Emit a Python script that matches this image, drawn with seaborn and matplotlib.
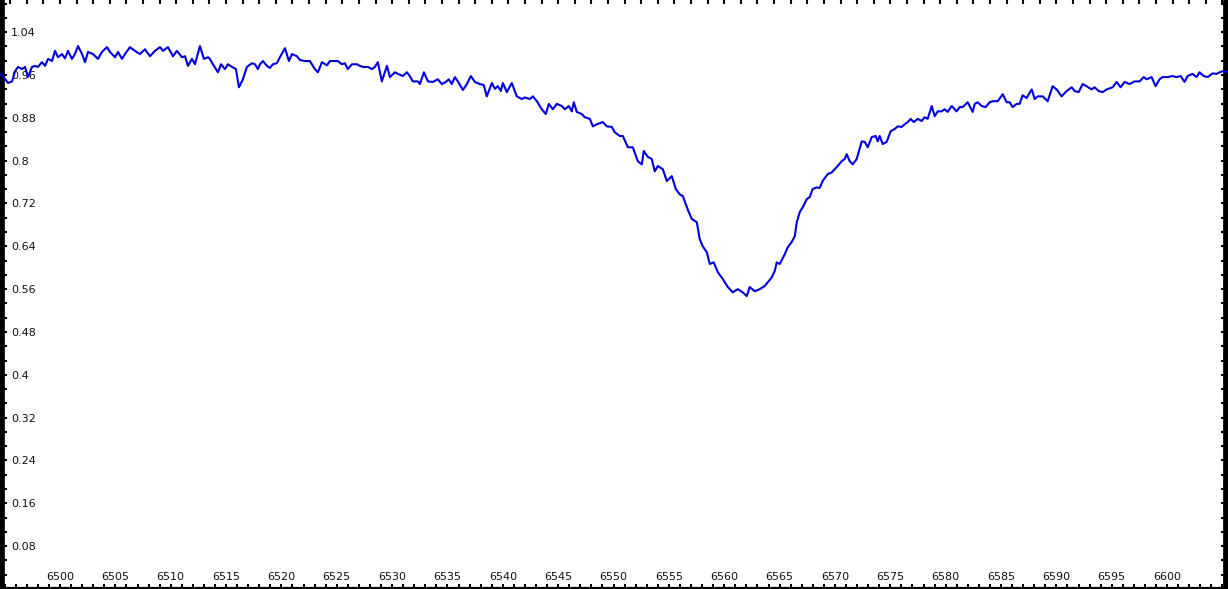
import numpy as np
import pandas as pd
import matplotlib
matplotlib.use("Agg")
import matplotlib.pyplot as plt
import seaborn as sns
from matplotlib.ticker import MultipleLocator, FixedLocator, NullFormatter

# H-alpha profile, wavelength in Angstrom
wavelength = [
    6494.58, 6494.85, 6495.30, 6495.67, 6495.94, 6496.21, 6496.57, 6496.84, 6497.11, 6497.47,
    6497.74, 6498.01, 6498.37, 6498.65, 6498.92, 6499.28, 6499.55, 6499.82, 6500.18, 6500.45,
    6500.72, 6501.08, 6501.35, 6501.63, 6501.99, 6502.26, 6502.53, 6502.98, 6503.43, 6503.79,
    6504.24, 6504.51, 6504.97, 6505.24, 6505.60, 6505.87, 6506.32, 6506.77, 6507.22, 6507.67,
    6508.13, 6508.58, 6509.03, 6509.30, 6509.75, 6510.20, 6510.56, 6511.02, 6511.29, 6511.56,
    6511.92, 6512.19, 6512.64, 6513.00, 6513.36, 6513.54, 6513.81, 6514.27, 6514.54, 6514.90,
    6515.17, 6515.53, 6515.89, 6516.16, 6516.52, 6516.88, 6517.34, 6517.61, 6517.88, 6518.06,
    6518.33, 6518.69, 6518.96, 6519.23, 6519.59, 6519.86, 6520.32, 6520.68, 6520.95, 6521.40,
    6521.67, 6522.12, 6522.57, 6523.02, 6523.30, 6523.66, 6524.11, 6524.38, 6524.83, 6525.10,
    6525.46, 6525.73, 6526.00, 6526.37, 6526.82, 6527.09, 6527.36, 6527.81, 6528.17, 6528.44,
    6528.71, 6529.07, 6529.53, 6529.80, 6530.25, 6530.52, 6530.97, 6531.33, 6531.60, 6531.87,
    6532.32, 6532.51, 6532.87, 6533.23, 6533.68, 6534.13, 6534.49, 6534.85, 6535.12, 6535.39,
    6535.67, 6535.94, 6536.39, 6536.75, 6537.11, 6537.47, 6537.92, 6538.28, 6538.55, 6539.01,
    6539.28, 6539.55, 6539.82, 6540.00, 6540.36, 6540.81, 6541.26, 6541.72, 6541.99, 6542.44,
    6542.71, 6543.07, 6543.52, 6543.88, 6544.15, 6544.51, 6544.88, 6545.33, 6545.60, 6545.96,
    6546.23, 6546.41, 6546.68, 6547.13, 6547.40, 6547.86, 6548.13, 6548.49, 6549.03, 6549.39,
    6549.84, 6550.11, 6550.56, 6550.84, 6551.29, 6551.74, 6552.19, 6552.55, 6552.73, 6553.09,
    6553.45, 6553.72, 6554.00, 6554.45, 6554.81, 6555.26, 6555.62, 6555.98, 6556.25, 6556.52,
    6556.79, 6557.07, 6557.52, 6557.79, 6558.06, 6558.42, 6558.69, 6559.05, 6559.41, 6559.86,
    6560.32, 6560.77, 6561.22, 6561.67, 6562.03, 6562.30, 6562.75, 6563.21, 6563.66, 6563.93,
    6564.29, 6564.56, 6564.74, 6565.01, 6565.46, 6565.73, 6566.09, 6566.37, 6566.55, 6566.82,
    6567.09, 6567.45, 6567.72, 6567.99, 6568.35, 6568.62, 6568.89, 6569.35, 6569.71, 6570.16,
    6570.61, 6570.88, 6571.06, 6571.33, 6571.60, 6571.96, 6572.42, 6572.69, 6572.96, 6573.32,
    6573.68, 6573.86, 6574.04, 6574.31, 6574.67, 6575.03, 6575.39, 6575.67, 6576.03, 6576.30,
    6576.57, 6576.84, 6577.11, 6577.47, 6577.83, 6578.10, 6578.37, 6578.74, 6579.01, 6579.28,
    6579.64, 6579.91, 6580.18, 6580.54, 6580.99, 6581.26, 6581.53, 6581.99, 6582.44, 6582.62,
    6582.89, 6583.25, 6583.61, 6583.97, 6584.24, 6584.70, 6585.15, 6585.51, 6585.78, 6586.05,
    6586.41, 6586.68, 6586.95, 6587.31, 6587.77, 6588.04, 6588.31, 6588.76, 6589.21, 6589.66,
    6590.02, 6590.47, 6590.93, 6591.38, 6591.65, 6592.01, 6592.37, 6592.73, 6593.18, 6593.45,
    6593.82, 6594.18, 6594.54, 6595.08, 6595.44, 6595.80, 6596.16, 6596.61, 6597.07, 6597.52,
    6597.88, 6598.15, 6598.60, 6598.96, 6599.32, 6599.59, 6600.04, 6600.50, 6600.86, 6601.22,
    6601.58, 6601.85, 6602.30, 6602.66, 6602.93, 6603.30, 6603.66, 6604.11, 6604.47, 6604.74,
    6605.01, 6605.46,
]

flux = [
    0.962, 0.958, 0.945, 0.948, 0.967, 0.975, 0.971, 0.975, 0.956, 0.975,
    0.977, 0.975, 0.984, 0.977, 0.990, 0.986, 1.005, 0.993, 0.999, 0.991,
    1.005, 0.990, 0.999, 1.014, 0.999, 0.984, 1.003, 0.999, 0.990, 1.003,
    1.012, 1.003, 0.993, 1.003, 0.990, 0.999, 1.012, 1.005, 0.999, 1.008,
    0.995, 1.005, 1.012, 1.005, 1.012, 0.995, 1.005, 0.993, 0.995, 0.977,
    0.990, 0.980, 1.014, 0.990, 0.993, 0.990, 0.980, 0.965, 0.980, 0.971,
    0.980, 0.975, 0.971, 0.937, 0.952, 0.975, 0.982, 0.980, 0.971, 0.980,
    0.986, 0.977, 0.973, 0.980, 0.982, 0.993, 1.010, 0.986, 0.999, 0.995,
    0.988, 0.986, 0.986, 0.971, 0.965, 0.984, 0.978, 0.986, 0.986, 0.986,
    0.980, 0.982, 0.971, 0.980, 0.980, 0.977, 0.975, 0.975, 0.971, 0.975,
    0.984, 0.948, 0.977, 0.956, 0.965, 0.962, 0.958, 0.965, 0.958, 0.948,
    0.948, 0.943, 0.965, 0.948, 0.947, 0.952, 0.943, 0.947, 0.952, 0.943,
    0.956, 0.948, 0.932, 0.943, 0.958, 0.947, 0.943, 0.941, 0.920, 0.945,
    0.934, 0.939, 0.930, 0.945, 0.928, 0.945, 0.920, 0.915, 0.918, 0.915,
    0.920, 0.911, 0.896, 0.887, 0.906, 0.896, 0.906, 0.902, 0.896, 0.902,
    0.892, 0.909, 0.891, 0.887, 0.881, 0.878, 0.864, 0.868, 0.872, 0.864,
    0.863, 0.853, 0.846, 0.846, 0.825, 0.825, 0.799, 0.793, 0.818, 0.807,
    0.803, 0.780, 0.790, 0.784, 0.762, 0.771, 0.747, 0.737, 0.734, 0.719,
    0.704, 0.691, 0.685, 0.653, 0.640, 0.629, 0.607, 0.610, 0.592, 0.579,
    0.564, 0.554, 0.560, 0.554, 0.547, 0.564, 0.556, 0.560, 0.566, 0.573,
    0.582, 0.594, 0.610, 0.607, 0.625, 0.638, 0.648, 0.659, 0.685, 0.704,
    0.713, 0.728, 0.732, 0.747, 0.750, 0.749, 0.762, 0.775, 0.778, 0.788,
    0.799, 0.803, 0.812, 0.799, 0.793, 0.803, 0.836, 0.835, 0.825, 0.844,
    0.846, 0.836, 0.846, 0.831, 0.835, 0.855, 0.859, 0.864, 0.863, 0.868,
    0.872, 0.878, 0.872, 0.878, 0.874, 0.881, 0.878, 0.902, 0.883, 0.892,
    0.892, 0.896, 0.891, 0.902, 0.892, 0.900, 0.900, 0.909, 0.891, 0.906,
    0.909, 0.902, 0.900, 0.909, 0.911, 0.911, 0.924, 0.909, 0.909, 0.900,
    0.906, 0.906, 0.922, 0.917, 0.933, 0.915, 0.920, 0.920, 0.911, 0.939,
    0.933, 0.920, 0.930, 0.937, 0.930, 0.928, 0.943, 0.939, 0.933, 0.937,
    0.930, 0.928, 0.933, 0.937, 0.947, 0.937, 0.947, 0.943, 0.948, 0.948,
    0.956, 0.952, 0.956, 0.939, 0.952, 0.956, 0.956, 0.958, 0.956, 0.958,
    0.947, 0.958, 0.962, 0.956, 0.965, 0.958, 0.956, 0.963, 0.962, 0.965,
    0.967, 0.965,
]

x_ticks = list(range(6500, 6601, 5))
y_ticks = [0.08, 0.16, 0.24, 0.32, 0.40, 0.48, 0.56, 0.64, 0.72, 0.80, 0.88, 0.96, 1.04]
y_labels = ["0.08", "0.16", "0.24", "0.32", "0.4", "0.48", "0.56", "0.64",
            "0.72", "0.8", "0.88", "0.96", "1.04"]

df = pd.DataFrame({"wavelength": wavelength, "flux": flux})

sns.set_style("white")
plt.rcParams["font.family"] = ["DejaVu Sans"]

fig = plt.figure(figsize=(12.28, 5.89), dpi=100)
ax = fig.add_axes([0, 0, 1, 1])

sns.lineplot(data=df, x="wavelength", y="flux", color="#0000dc",
             linewidth=1.5, sort=False, ax=ax, zorder=3)

ax.set_xlim(6494.58, 6605.5)
ax.set_ylim(0.0, 1.10)
ax.set_xlabel("")
ax.set_ylabel("")

# frame: heavy black on left/right, thinner bottom, no top line
for side in ["left", "right"]:
    ax.spines[side].set_linewidth(7)
    ax.spines[side].set_color("black")
ax.spines["bottom"].set_linewidth(3)
ax.spines["bottom"].set_color("black")
ax.spines["top"].set_visible(False)

ax.xaxis.set_major_locator(FixedLocator(x_ticks))
ax.xaxis.set_minor_locator(MultipleLocator(1))
ax.set_xticks(x_ticks)
ax.set_xticklabels([str(t) for t in x_ticks])
ax.tick_params(axis="x", which="both", direction="in", length=3.5, width=1.5,
               color="black", labelcolor="#111111", labelsize=8, pad=-12.5,
               bottom=True, top=False)

ax.set_yticks(y_ticks)
ax.set_yticklabels(y_labels)
ax.yaxis.set_minor_locator(MultipleLocator(0.08 / 3))
ax.tick_params(axis="y", which="both", direction="in", length=5, width=1.5,
               color="black", labelcolor="#111111", labelsize=8, pad=-8,
               left=True, right=True, labelright=False)
for lab in ax.get_yticklabels():
    lab.set_horizontalalignment("left")

# short tick marks along the top edge
top = ax.secondary_xaxis("top")
top.set_xticks(np.arange(6494.0, 6606.0, 1.5))
top.xaxis.set_major_formatter(NullFormatter())
top.tick_params(direction="in", length=3, width=1.5, color="black")
top.spines["top"].set_visible(False)

fig.savefig("out.png", dpi=100)
